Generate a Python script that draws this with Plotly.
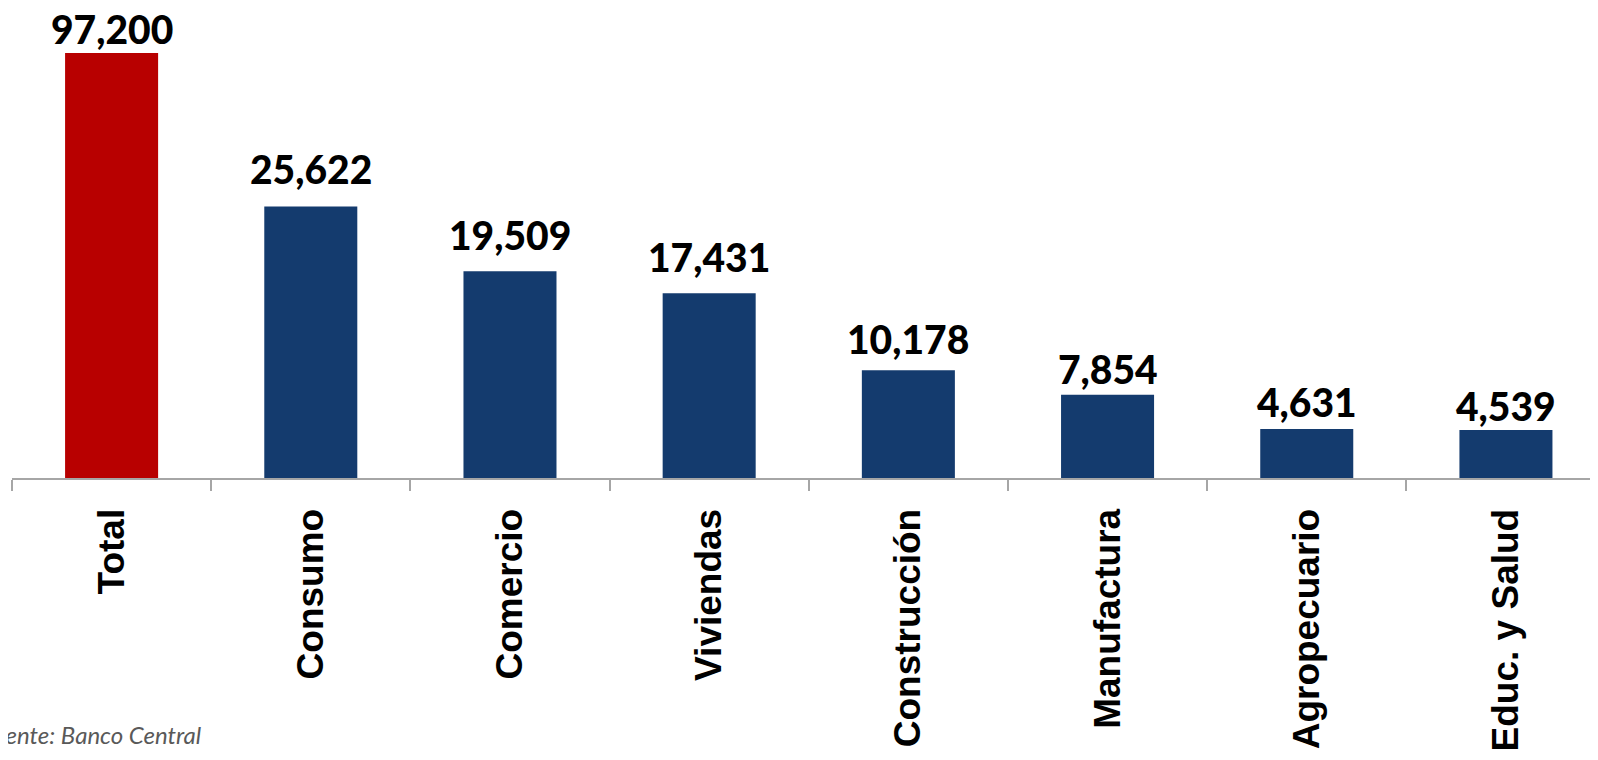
import plotly.graph_objects as go

categories = ["Total", "Consumo", "Comercio", "Viviendas", "Construcción",
              "Manufactura", "Agropecuario", "Educ. y Salud"]
values = [97200, 25622, 19509, 17431, 10178, 7854, 4631, 4539]
bar_colors = ["#b80000"] + ["#143b6e"] * 7
y_top = 40100
source_text = "Fuente: Banco Central"

# extra lift (px) of each value label above its bar, as drawn in the original
label_lift = [0, 13, 12, 12, 7, 2, 3, 0]

# figure sized so that the page (with the 8px body margin) fits the window
W, H = 1582, 744
ML, MT, MB = 4, 45, 274
plot_w = W - ML
plot_h = H - MT - MB

fig = go.Figure()
fig.add_trace(go.Bar(
    x=categories, y=values,
    marker=dict(color=bar_colors, line=dict(width=0)),
    hoverinfo="skip",
))

for c, v, lift in zip(categories, values, label_lift):
    fig.add_annotation(
        x=c, y=min(v, y_top), xref="x", yref="y",
        text=f"{v:,}", showarrow=False, yanchor="bottom", yshift=-1 + lift,
        font=dict(family="Lato", size=39, color="#000000", weight=900),
    )

fig.add_annotation(
    x=(196 - ML) / plot_w, y=(plot_h + MT - 743) / plot_h, xref="paper", yref="paper",
    xanchor="right", yanchor="bottom", showarrow=False,
    text=f"<i>{source_text}</i>",
    font=dict(family="Lato", size=24, color="#595959"),
)

fig.update_layout(
    width=W, height=H,
    margin=dict(l=ML, r=0, t=MT, b=MB),
    paper_bgcolor="white", plot_bgcolor="white",
    bargap=0.533, showlegend=False,
    xaxis=dict(
        type="category", range=[-0.5, 7.422],
        showline=True, linecolor="#a6a6a6", linewidth=2,
        ticks="outside", tickson="boundaries", ticklen=11, tickwidth=2, tickcolor="#a6a6a6",
        tickangle=-90, ticklabelstandoff=14,
        tickfont=dict(family="Liberation Sans", size=37, color="#000000", weight="bold"),
        showgrid=False, zeroline=False, fixedrange=True, automargin=False,
    ),
    yaxis=dict(
        range=[0, y_top], visible=False, showgrid=False, zeroline=False, fixedrange=True,
    ),
)

fig.write_html("out.html")
